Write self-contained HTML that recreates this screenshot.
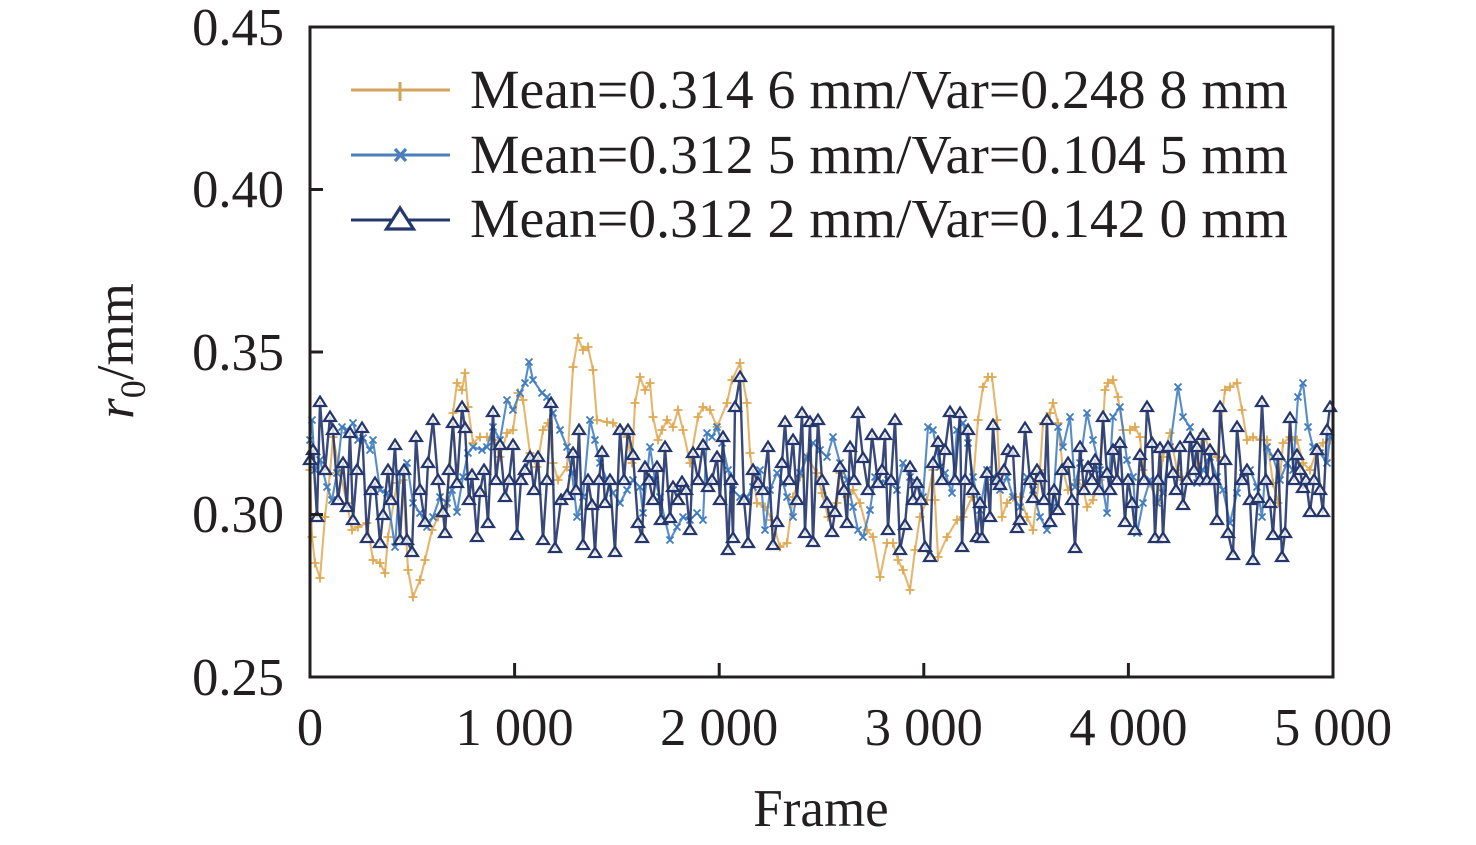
<!DOCTYPE html>
<html>
<head>
<meta charset="utf-8">
<style>
html,body{margin:0;padding:0;background:#fff;}
svg{display:block;}
text{font-family:"Liberation Serif","Times New Roman",serif;fill:#231F20;}
</style>
</head>
<body>
<svg width="1476" height="845" viewBox="0 0 1476 845" xmlns="http://www.w3.org/2000/svg">
<defs>
<marker id="mp" markerUnits="userSpaceOnUse" markerWidth="14" markerHeight="14" refX="7" refY="7" overflow="visible">
<path d="M2.5,7H11.5M7,2.5V11.5" stroke="#E0A850" stroke-width="1.8" fill="none"/>
</marker>
<marker id="mx" markerUnits="userSpaceOnUse" markerWidth="14" markerHeight="14" refX="7" refY="7" overflow="visible">
<path d="M3.5,3.5L10.5,10.5M10.5,3.5L3.5,10.5" stroke="#3F7BC0" stroke-width="1.8" fill="none"/>
</marker>
<marker id="mt" markerUnits="userSpaceOnUse" markerWidth="14" markerHeight="14" refX="7" refY="7.5" overflow="visible">
<path d="M7,2L13,11.5H1Z" fill="#fff" fill-opacity="0.8" stroke="#24366B" stroke-width="2.2"/>
</marker>
</defs>

<!-- Orange series -->
<polyline fill="none" stroke="#E2AE5E" stroke-width="2.1" stroke-opacity="0.9" stroke-linejoin="round"
marker-start="url(#mp)" marker-mid="url(#mp)" marker-end="url(#mp)"
points="310,470 312,537 315,563 320,578 325,517 330,473 333,437 340,473 347,503 352,530 358,527 367,523 373,560 380,563 385,573 388,537 397,483 403,480 408,570 413,597 420,580 425,560 432,530 438,517 445,507 450,470 453,413 457,383 462,390 465,373 468,407 473,443 480,437 487,437 493,440 500,457 507,433 513,430 518,393 523,400 530,453 537,467 543,430 548,423 553,463 558,480 567,467 573,367 578,338 583,350 588,347 593,370 597,420 607,422 613,423 620,430 627,437 632,463 635,403 640,377 645,390 650,383 653,417 658,440 662,430 667,420 673,427 678,410 683,430 690,463 698,417 703,407 710,410 717,427 727,403 732,380 740,363 747,403 750,453 757,503 765,507 772,520 780,547 787,543 793,497 800,477 807,457 817,473 822,493 828,517 837,503 840,473 847,497 853,490 860,503 867,530 873,537 880,577 887,543 893,543 898,560 903,570 910,590 915,550 920,517 927,500 933,470 935,500 938,557 947,537 957,520 963,517 972,497 978,420 983,387 988,377 992,377 997,420 1000,487 1002,517 1007,503 1013,497 1020,497 1027,517 1033,530 1040,470 1043,423 1050,413 1053,403 1058,423 1063,470 1068,490 1077,480 1083,487 1087,507 1093,500 1100,480 1105,390 1108,383 1113,380 1118,397 1123,430 1130,430 1135,427 1140,437 1143,470 1150,483 1157,503 1163,457 1170,433 1177,470 1183,480 1190,473 1197,463 1203,433 1210,450 1217,457 1225,390 1230,387 1237,383 1242,410 1247,440 1253,437 1260,440 1267,440 1273,483 1278,503 1283,443 1290,437 1297,440 1303,463 1310,470 1317,450 1323,443 1330,440"/>

<!-- Light blue series -->
<polyline fill="none" stroke="#4580C2" stroke-width="2.1" stroke-opacity="0.9" stroke-linejoin="round"
marker-start="url(#mx)" marker-mid="url(#mx)" marker-end="url(#mx)"
points="310,440 312,420 315,470 320,460 327,487 332,500 337,473 342,427 347,430 353,423 358,440 363,438 370,450 373,440 380,490 387,493 395,547 400,473 407,463 413,503 420,513 427,527 433,517 440,497 447,503 452,490 457,512 463,477 468,453 473,447 482,450 487,447 493,427 500,440 507,400 513,410 520,393 525,383 529,362 533,380 542,393 547,397 553,413 560,430 567,447 572,473 577,517 583,497 590,420 595,440 600,463 607,480 613,493 620,503 627,490 633,480 640,487 643,513 650,447 655,480 660,497 665,520 670,540 677,527 683,517 690,520 697,513 703,520 707,433 712,437 717,427 722,443 728,470 733,490 740,497 747,497 753,487 760,470 765,530 770,490 777,473 783,483 787,497 793,517 800,473 807,457 813,443 820,450 827,457 833,437 840,463 847,480 853,507 858,530 863,537 870,510 875,477 880,483 888,480 897,490 903,463 910,477 917,483 923,497 928,427 933,430 940,467 945,473 952,493 957,430 963,423 968,443 973,477 980,510 987,470 993,477 1000,490 1007,477 1013,497 1020,507 1027,477 1033,490 1040,517 1047,530 1053,507 1058,427 1063,447 1070,417 1075,487 1080,463 1087,413 1093,440 1100,470 1107,513 1113,417 1120,407 1127,460 1133,477 1137,533 1143,503 1150,480 1157,503 1163,493 1170,447 1178,387 1183,417 1190,427 1197,483 1203,470 1210,457 1217,477 1223,490 1230,523 1237,493 1243,473 1250,470 1257,487 1262,517 1267,447 1273,457 1280,480 1287,463 1293,470 1298,397 1303,383 1308,427 1313,447 1320,453 1327,463 1330,437"/>

<!-- Navy series -->
<polyline fill="none" stroke="#22346A" stroke-width="2.4" stroke-opacity="0.9" stroke-linejoin="round"
marker-start="url(#mt)" marker-mid="url(#mt)" marker-end="url(#mt)"
points="310,460 313,450 317,517 320,402 325,470 330,417 333,430 338,500 343,463 347,507 350,433 353,520 357,470 362,428 367,538 371,490 375,483 380,543 383,515 388,470 391,500 395,445 400,540 404,470 407,540 412,552 416,437 420,490 425,522 428,463 433,420 438,480 443,512 445,533 449,470 453,423 457,483 462,407 465,428 469,500 472,475 477,537 480,492 484,470 488,523 493,412 496,480 500,445 505,497 509,480 513,445 517,535 521,480 525,470 530,457 534,490 538,457 543,540 547,480 551,403 555,548 561,500 567,495 573,453 576,490 579,430 583,545 588,480 592,505 595,553 599,480 602,452 605,503 610,480 615,552 620,430 624,480 628,430 633,455 638,523 642,538 645,467 649,480 653,500 657,467 661,520 665,447 670,518 673,487 678,500 682,482 686,490 690,530 693,453 698,480 703,445 708,487 712,480 717,457 720,500 723,437 728,550 731,480 733,538 735,407 740,377 744,500 748,543 753,470 758,483 763,490 768,447 773,545 777,522 782,463 785,422 789,480 793,440 797,500 802,413 805,533 810,422 813,542 818,420 822,480 827,503 832,532 835,512 840,467 844,490 847,523 850,447 854,480 858,413 863,458 868,490 872,435 878,483 882,470 885,435 888,530 891,480 895,420 900,550 905,525 910,467 913,500 917,483 921,500 925,547 930,557 933,463 938,442 942,480 945,450 950,412 955,480 960,413 962,547 965,480 968,430 973,490 977,537 980,503 982,538 987,473 990,517 993,425 997,480 1000,485 1004,470 1008,450 1013,452 1017,528 1020,520 1025,428 1030,480 1033,498 1037,470 1040,477 1044,500 1047,420 1050,522 1054,490 1058,510 1062,470 1068,463 1072,500 1075,548 1080,447 1084,490 1088,467 1092,480 1095,460 1099,490 1103,417 1107,473 1110,490 1113,450 1117,480 1120,443 1125,522 1128,480 1132,503 1135,530 1140,455 1144,480 1147,407 1152,443 1155,538 1158,480 1160,448 1163,538 1168,447 1173,473 1176,490 1180,447 1183,505 1187,480 1190,438 1194,470 1197,447 1200,480 1203,435 1207,480 1210,450 1214,480 1217,520 1220,407 1225,460 1228,533 1233,555 1237,427 1242,480 1247,470 1250,500 1253,560 1258,498 1262,402 1266,480 1270,503 1273,535 1278,455 1282,557 1285,533 1290,418 1294,480 1297,455 1300,470 1303,488 1306,480 1310,512 1314,480 1317,450 1320,490 1323,512 1327,430 1330,407"/>

<!-- Axes frame -->
<rect x="310" y="27" width="1023" height="650" fill="none" stroke="#231F20" stroke-width="3"/>
<g stroke="#231F20" stroke-width="3">
<line x1="310" y1="189.5" x2="323" y2="189.5"/>
<line x1="310" y1="352" x2="323" y2="352"/>
<line x1="310" y1="514.5" x2="323" y2="514.5"/>
<line x1="514.6" y1="677" x2="514.6" y2="663"/>
<line x1="719.2" y1="677" x2="719.2" y2="663"/>
<line x1="923.8" y1="677" x2="923.8" y2="663"/>
<line x1="1128.4" y1="677" x2="1128.4" y2="663"/>
</g>

<!-- Y tick labels -->
<g font-size="52.5" text-anchor="end">
<text x="284" y="45">0.45</text>
<text x="284" y="207">0.40</text>
<text x="284" y="370">0.35</text>
<text x="284" y="532">0.30</text>
<text x="284" y="695">0.25</text>
</g>
<!-- X tick labels -->
<g font-size="52.5" text-anchor="middle">
<text x="310" y="745">0</text>
<text x="514.6" y="745">1 000</text>
<text x="719.2" y="745">2 000</text>
<text x="923.8" y="745">3 000</text>
<text x="1128.4" y="745">4 000</text>
<text x="1333" y="745">5 000</text>
</g>
<text x="821" y="826" font-size="53" text-anchor="middle">Frame</text>
<text transform="translate(133,351) rotate(-90)" font-size="53" text-anchor="middle"><tspan font-style="italic">r</tspan><tspan font-size="36" dy="12">0</tspan><tspan dy="-12">/mm</tspan></text>

<!-- Legend -->
<g>
<line x1="351" y1="90" x2="450" y2="90" stroke="#D6A35C" stroke-width="3"/>
<line x1="400" y1="82" x2="400" y2="101" stroke="#D6A35C" stroke-width="3"/>
<line x1="351" y1="155" x2="450" y2="155" stroke="#4A7EBD" stroke-width="3"/>
<path d="M395,149L406,161M406,149L395,161" stroke="#4A7EBD" stroke-width="3.2" fill="none"/>
<line x1="351" y1="220" x2="450" y2="220" stroke="#26376B" stroke-width="3"/>
<path d="M400,208L413.5,229H386.5Z" fill="#fff" stroke="#26376B" stroke-width="3.2"/>
</g>
<g font-size="55.5">
<text x="470" y="108" textLength="818" lengthAdjust="spacingAndGlyphs">Mean=0.314 6 mm/Var=0.248 8 mm</text>
<text x="470" y="173" textLength="818" lengthAdjust="spacingAndGlyphs">Mean=0.312 5 mm/Var=0.104 5 mm</text>
<text x="470" y="237" textLength="818" lengthAdjust="spacingAndGlyphs">Mean=0.312 2 mm/Var=0.142 0 mm</text>
</g>
</svg>
</body>
</html>
